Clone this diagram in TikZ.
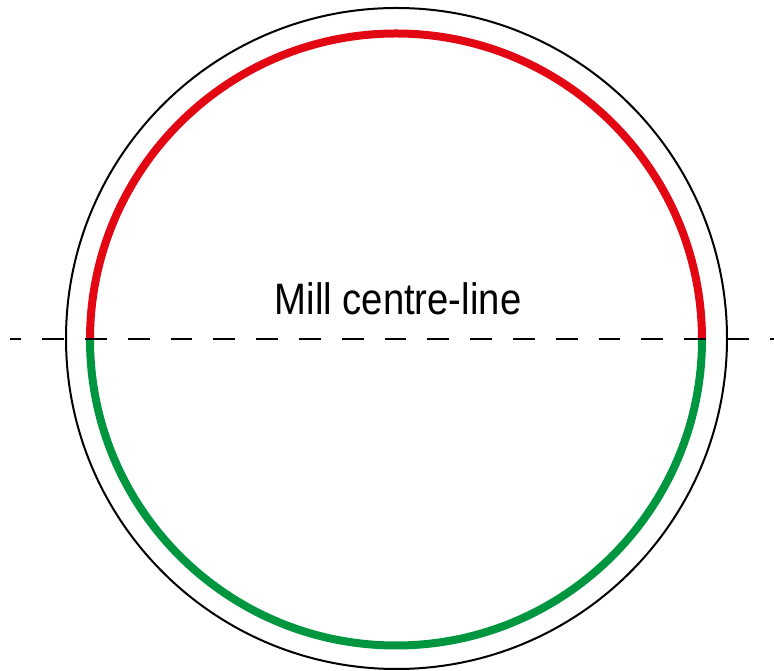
\documentclass[tikz,border=0pt]{standalone}
\usepackage{fontspec}
\setmainfont{Liberation Sans}
\usetikzlibrary{calc}
\definecolor{arcred}{RGB}{227,6,19}
\definecolor{arcgreen}{RGB}{0,150,64}
\tikzset{
  outerring/.style={draw=black,line width=2pt},
  colourarc/.style={line width=8pt},
  centreline/.style={draw=black,line width=2pt,dash pattern=on 21.8pt off 21pt,dash phase=10.6pt},
  labeltext/.style={font=\fontsize{44}{50}\selectfont,inner sep=0pt,anchor=base,xscale=0.87}
}
\begin{document}
\begin{tikzpicture}[x=1pt,y=1pt]
\useasboundingbox (0,0) rectangle (774,671);
\coordinate (oc) at (396.5,332.5);
\coordinate (ic) at (396,331.5);
\draw[outerring] (oc) circle[radius=330.5];
\draw[colourarc,draw=arcred] ($(ic)+(306,0)$) arc[start angle=0,end angle=180,radius=306];
\draw[colourarc,draw=arcgreen] ($(ic)+(306,0)$) arc[start angle=0,end angle=-180,radius=306];
\coordinate (lineL) at (10,331.5);
\coordinate (lineR) at (774,331.5);
\draw[centreline] (lineL) -- (lineR);
\node[labeltext] (lbl) at (398,356) {Mill centre-line};
\end{tikzpicture}
\end{document}
